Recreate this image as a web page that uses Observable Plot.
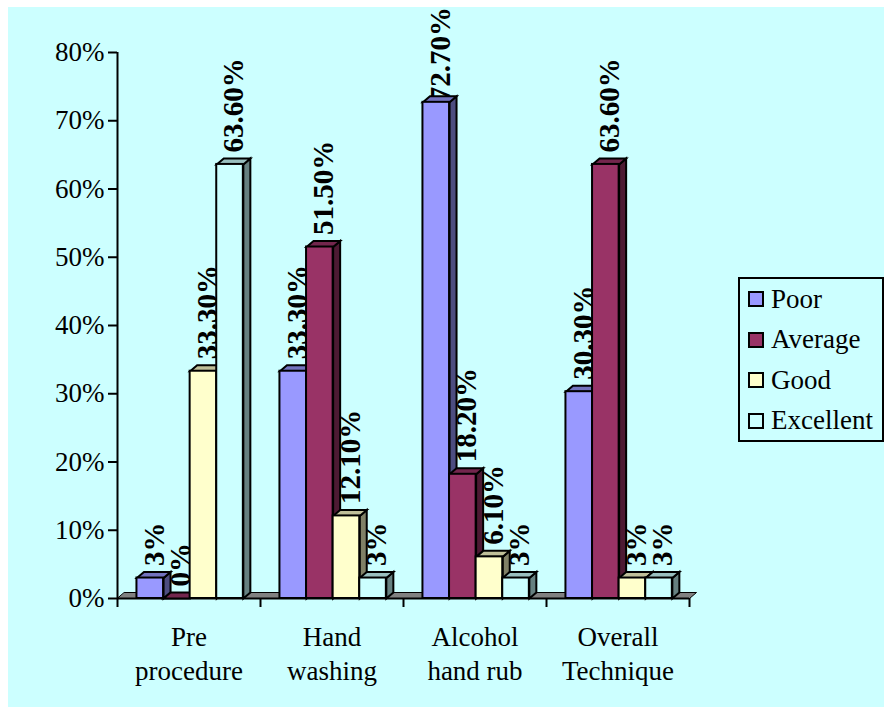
<!DOCTYPE html>
<html>
<head>
<meta charset="utf-8">
<script src="https://cdn.jsdelivr.net/npm/d3@7"></script>
<script src="https://cdn.jsdelivr.net/npm/@observablehq/plot@0.6"></script>
<style>
  body { margin: 0; background: #ffffff; }
  #chart { position: absolute; left: 8px; top: 7px; width: 876px; height: 700px; background: #CCFFFF; }
  #legend {
    position: absolute; left: 730px; top: 270px; width: 146px; height: 165px;
    box-sizing: border-box; border: 2px solid #000; background: #CCFFFF;
    font-family: "Liberation Serif", "Times New Roman", serif; font-size: 27px; color: #000;
  }
  #legend .row { display: flex; align-items: center; height: 40.5px; padding-left: 8px; }
  #legend .sw { width: 12px; height: 12px; border: 2px solid #000; margin-right: 7px; flex: none; }
</style>
</head>
<body>
<div id="chart"></div>
<script>
// Categories and series
const categories = ["Pre\nprocedure", "Hand\nwashing", "Alcohol\nhand rub", "Overall\nTechnique"];
const series = ["Poor", "Average", "Good", "Excellent"];

// Percentages per category, one array per series
const poor      = [3, 33.3, 72.7, 30.3];
const average   = [0, 51.5, 18.2, 63.6];
const good      = [33.3, 12.1, 6.1, 3];
const excellent = [63.6, 3, 3, 3];

const yTicks = [0, 10, 20, 30, 40, 50, 60, 70, 80];

// Face colours for each series (front, top, side)
const frontColors = ["#9999FF", "#993366", "#FFFFCC", "#CCFFFF"];
const topColors   = ["#7373BF", "#73264D", "#BFBF99", "#99BFBF"];
const sideColors  = ["#4D4D80", "#4D1A33", "#808066", "#668080"];
const floorColor  = "#808080";

// Layout
const W = 876, H = 700;
const margin = {top: 45, right: 195, bottom: 109, left: 109};
const innerW = W - margin.left - margin.right;
const innerH = H - margin.top - margin.bottom;
const xMax = categories.length, yMax = 80;

// Bar geometry in category units; 3D depth given in pixels and converted to data units
const BAR_W = 0.186, GROUP_OFFSET = 0.136;
const DEPTH_X = 7 * xMax / innerW;
const DEPTH_Y = 6 * yMax / innerH;
const LABEL_CEIL = 71.1; // keeps the tallest label inside the frame

const values = [poor, average, good, excellent];
const bars = [];
categories.forEach((c, i) => {
  series.forEach((s, k) => {
    const x0 = i + GROUP_OFFSET + k * BAR_W;
    bars.push({category: c, series: s, k, v: values[k][i], x0, x1: x0 + BAR_W});
  });
});

const fmt = v => Number.isInteger(v) ? v + "%" : v.toFixed(2) + "%";

// Polygon vertices for side and top faces
const sides = [], tops = [];
bars.forEach((b, j) => {
  const id = "b" + j;
  [[b.x1, 0], [b.x1 + DEPTH_X, DEPTH_Y], [b.x1 + DEPTH_X, b.v + DEPTH_Y], [b.x1, b.v]]
    .forEach(([x, y]) => sides.push({face: id, x, y, fill: sideColors[b.k]}));
  [[b.x0, b.v], [b.x1, b.v], [b.x1 + DEPTH_X, b.v + DEPTH_Y], [b.x0 + DEPTH_X, b.v + DEPTH_Y]]
    .forEach(([x, y]) => tops.push({face: id, x, y, fill: topColors[b.k]}));
});
const floor = [[0, 0], [xMax, 0], [xMax + DEPTH_X, DEPTH_Y], [DEPTH_X, DEPTH_Y]]
  .map(([x, y]) => ({face: "floor", x, y, fill: floorColor}));

const poly = (data, sw) => Plot.line(data, {
  x: "x", y: "y", z: "face", fill: "fill", stroke: "#000", strokeWidth: sw,
  curve: "linear-closed", strokeLinejoin: "miter", strokeMiterlimit: 10
});

const chart = Plot.plot({
  width: W, height: H,
  marginTop: margin.top, marginRight: margin.right, marginBottom: margin.bottom, marginLeft: margin.left,
  style: {background: "transparent", fontFamily: "'Liberation Serif', 'Times New Roman', serif", fontSize: "27px", color: "#000", overflow: "visible"},
  x: {domain: [0, xMax]},
  y: {domain: [0, yMax]},
  color: {type: "identity"},
  marks: [
    poly(floor, 1),
    Plot.ruleY([0], {x1: 0, x2: xMax, stroke: "#000", strokeWidth: 2}),
    Plot.axisX({ticks: d3.range(xMax + 1), tickSize: 9, tickFormat: () => "", strokeWidth: 2}),
    Plot.axisX({ticks: categories.map((c, i) => i + 0.5), tickSize: 0, tickPadding: 23,
      tickFormat: t => categories[Math.floor(t)], lineHeight: 1.26, fontSize: 27}),
    Plot.ruleX([0], {y1: 0, y2: yMax, stroke: "#000", strokeWidth: 2}),
    Plot.axisY({ticks: yTicks, tickSize: 9, tickPadding: 4, tickFormat: d => d + "%", strokeWidth: 2, fontSize: 27}),
    Plot.text(bars, {
      x: d => (d.x0 + d.x1) / 2, y: d => Math.min(d.v, LABEL_CEIL), text: d => fmt(d.v),
      rotate: -90, textAnchor: "start", lineAnchor: "middle", dx: 4, dy: -12,
      fontWeight: "bold", fontSize: 29, fill: "#000"
    }),
    poly(sides, 2),
    poly(tops, 2),
    Plot.rect(bars, {x1: "x0", x2: "x1", y1: 0, y2: "v", fill: d => frontColors[d.k],
      stroke: "#000", strokeWidth: 2, strokeLinejoin: "miter"})
  ]
});

const root = document.getElementById("chart");
root.appendChild(chart);

// Legend box on the right
const legend = document.createElement("div");
legend.id = "legend";
series.forEach((s, k) => {
  const row = document.createElement("div");
  row.className = "row";
  const sw = document.createElement("span");
  sw.className = "sw";
  sw.style.background = frontColors[k];
  row.appendChild(sw);
  row.appendChild(document.createTextNode(s));
  legend.appendChild(row);
});
root.appendChild(legend);
</script>
</body>
</html>
